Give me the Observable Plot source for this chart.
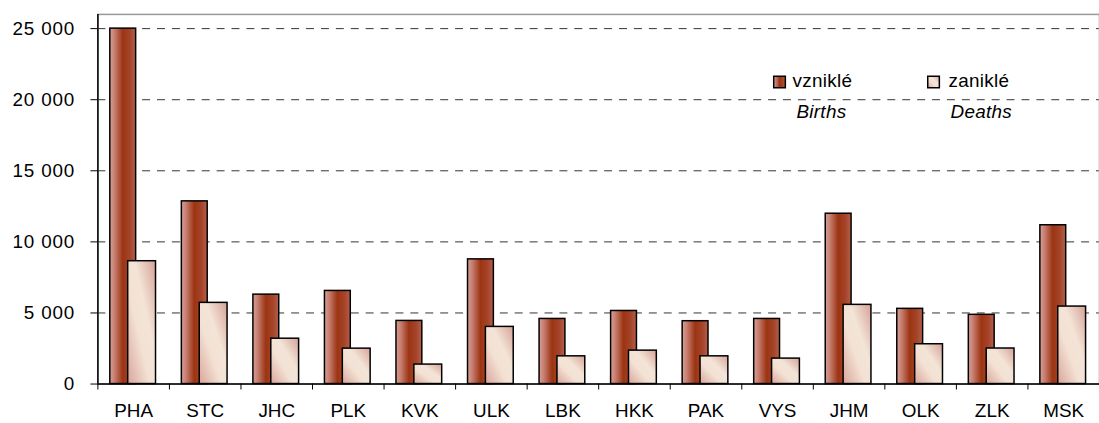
<!DOCTYPE html>
<html><head><meta charset="utf-8">
<script src="https://cdn.jsdelivr.net/npm/d3@7"></script>
<script src="https://cdn.jsdelivr.net/npm/@observablehq/plot@0.6"></script>
<style>
body{margin:0;background:#fff;overflow:hidden}
#chart{width:1099px;height:423px;overflow:hidden}
g[aria-label="x-axis tick label"]{letter-spacing:0}
g[aria-label="text"]{letter-spacing:0.3px}
</style>
</head><body><div id="chart"></div>
<script>
const regions = ["PHA","STC","JHC","PLK","KVK","ULK","LBK","HKK","PAK","VYS","JHM","OLK","ZLK","MSK"];
const births  = [25000,12850,6290,6550,4440,8770,4580,5140,4420,4580,11980,5290,4870,11170];
const deaths  = [8640,5710,3190,2490,1370,4020,1950,2350,1950,1790,5570,2800,2500,5450];
const yTicks  = [0,5000,10000,15000,20000,25000];
const seriesLabels = ["vzniklé","zaniklé"];
const seriesLabelsEn = ["Births","Deaths"];

const rows = regions.map((r,i)=>({region:r, births:births[i], deaths:deaths[i]}));
const fmt = d => d3.format(",")(d).replace(/,/g," ");

const defs = () => {
  const s = d3.create("svg:defs");
  const gb = s.append("linearGradient").attr("id","gB").attr("x1",0).attr("y1",0).attr("x2",1).attr("y2",0);
  [[0,"#d89f95"],[0.18,"#c77f72"],[0.5,"#9c3412"],[0.78,"#a5442a"],[1,"#b4604c"]]
    .forEach(([o,c])=>gb.append("stop").attr("offset",o).attr("stop-color",c));
  const gd = s.append("linearGradient").attr("id","gD").attr("x1",0).attr("y1",1).attr("x2",1).attr("y2",0);
  [[0,"#d9a59b"],[0.4,"#f3e2d4"],[0.62,"#f3e4d7"],[1,"#d6a297"]]
    .forEach(([o,c])=>gd.append("stop").attr("offset",o).attr("stop-color",c));
  return s.node();
};

const chart = Plot.plot({
  width: 1106,
  height: 423,
  marginLeft: 98,
  marginRight: 0,
  marginTop: 14,
  marginBottom: 37,
  style: {fontFamily: "'Liberation Sans', Arial, sans-serif", fontSize: "19px", letterSpacing: "0.8px", color: "black", background: "white"},
  x: {domain: regions, padding: 0, axis: null, label: null},
  y: {domain: [0, 26000], axis: null, label: null},
  marks: [
    defs,
    Plot.ruleY(yTicks.filter(d => d > 0), {stroke: "#333", strokeDasharray: "8,7", strokeWidth: 1}),
    Plot.frame({stroke: "#999", strokeWidth: 1.5}),
    Plot.barY(rows, {x: "region", y: "births", fill: "url(#gB)", stroke: "black", strokeWidth: 1.5, insetLeft: 12.5, insetRight: 33.5}),
    Plot.barY(rows, {x: "region", y: "deaths", fill: "url(#gD)", stroke: "black", strokeWidth: 1.5, insetLeft: 30.5, insetRight: 13.5}),
    Plot.ruleY([0], {stroke: "black", strokeWidth: 1.5}),
    Plot.ruleX([regions[0]], {x: d => d, dx: -36, stroke: "black", strokeWidth: 1.5}),
    Plot.axisY({ticks: yTicks, tickSize: 7, tickPadding: 16, tickFormat: fmt, fontSize: 19, label: null}),
    Plot.axisX({tickSize: 6, tickFormat: () => "", dx: -36, label: null}),
    Plot.axisX({tickSize: 0, tickPadding: 20, fontSize: 19, label: null}),
    // legend
    Plot.dot([0], {frameAnchor: "top-left", dx: 686, dy: 68, symbol: "square", r: 6.6, fill: "url(#gB)", stroke: "black", strokeWidth: 1.5}),
    Plot.dot([0], {frameAnchor: "top-left", dx: 841, dy: 68, symbol: "square", r: 6.6, fill: "url(#gD)", stroke: "black", strokeWidth: 1.5}),
    Plot.text([seriesLabels[0]], {text: d => d, frameAnchor: "top-left", dx: 699, dy: 67, textAnchor: "start", lineAnchor: "middle", fontSize: 19}),
    Plot.text([seriesLabels[1]], {text: d => d, frameAnchor: "top-left", dx: 856, dy: 67, textAnchor: "start", lineAnchor: "middle", fontSize: 19}),
    Plot.text([seriesLabelsEn[0]], {text: d => d, frameAnchor: "top-left", dx: 703, dy: 98, textAnchor: "start", lineAnchor: "middle", fontSize: 19, fontStyle: "italic"}),
    Plot.text([seriesLabelsEn[1]], {text: d => d, frameAnchor: "top-left", dx: 920, dy: 98, textAnchor: "end", lineAnchor: "middle", fontSize: 19, fontStyle: "italic"})
  ]
});
document.getElementById("chart").appendChild(chart);
</script>
</body></html>
